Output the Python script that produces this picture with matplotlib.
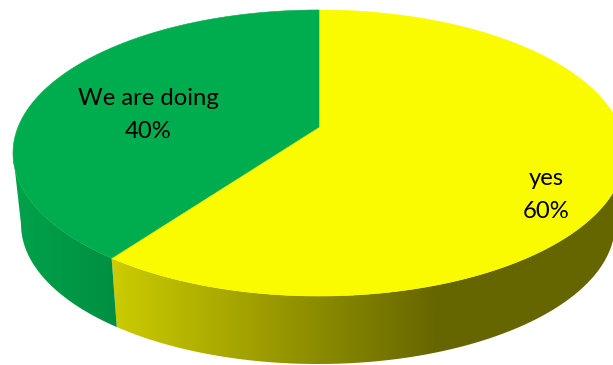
import numpy as np
import matplotlib
matplotlib.use("Agg")
import matplotlib.pyplot as plt
from matplotlib.colors import LinearSegmentedColormap
from matplotlib.patches import Polygon

labels = ["yes", "We are doing"]
shares = [60, 40]
top_colors = ["#FBFB00", "#00AD4E"]

W, H = 613, 365
fig = plt.figure(figsize=(W / 100, H / 100), dpi=100)
ax = fig.add_axes([0, 0, 1, 1])
ax.set_xlim(0, W)
ax.set_ylim(H, 0)
ax.axis("off")

# Perspective projection of the disc; angles run clockwise from twelve o'clock.
K = 0.1818


def rim(theta, cx, cy, a, b):
    u, v = np.sin(theta), np.cos(theta)
    d = 1 + K * v
    return cx + a * u / d, cy - b * v / d


def top_rim(theta):
    return rim(theta, 319, 127, 300.9, 138.3)


def bottom_rim(theta):
    return rim(theta, 318, 199, 292, 135)


fractions = np.cumsum([0] + shares) / sum(shares)
edges = 2 * np.pi * fractions
split = edges[1]


def side_wall(start, stop, stops, x0, x1):
    t = np.linspace(start, stop, 300)
    xt, yt = top_rim(t)
    xb, yb = bottom_rim(t)
    pts = np.vstack([np.c_[xt, yt], np.c_[xb, yb][::-1]])
    clip = Polygon(pts, closed=True, transform=ax.transData, fc="none", ec="none")
    ax.add_patch(clip)
    cmap = LinearSegmentedColormap.from_list("wall", stops)
    grad = np.linspace(0, 1, 256)[None, :]
    im = ax.imshow(grad, cmap=cmap, extent=[x0, x1, H, 0], aspect="auto", zorder=1,
                   interpolation="bilinear")
    im.set_clip_path(clip)


# The walls end where the rim turns back, at cos(theta) = -K.
turn = np.arccos(-K)
side_wall(turn, split,
          [(0.0, "#666600"), (0.36, "#666600"), (1.0, "#CCCC00")], 620, 112)
side_wall(split, 2 * np.pi - turn,
          [(0.0, "#008F42"), (1.0, "#00A24A")], 118, 12)
ax.set_xlim(0, W)
ax.set_ylim(H, 0)

# Top face wedges.
for i, color in enumerate(top_colors):
    t = np.linspace(edges[i], edges[i + 1], 300)
    x, y = top_rim(t)
    pts = np.vstack([[319, 127], np.c_[x, y]])
    ax.add_patch(Polygon(pts, closed=True, fc=color, ec=color, lw=0.4, zorder=2))

label_pos = [(546, 195), (148, 115)]
for name, share, (x, y) in zip(labels, shares, label_pos):
    ax.text(x, y, f"{name}\n{share}%", ha="center", va="center", fontsize=17.2,
            family="Lato", color="black", linespacing=1.65, zorder=3)

fig.savefig("out.png", dpi=100)
